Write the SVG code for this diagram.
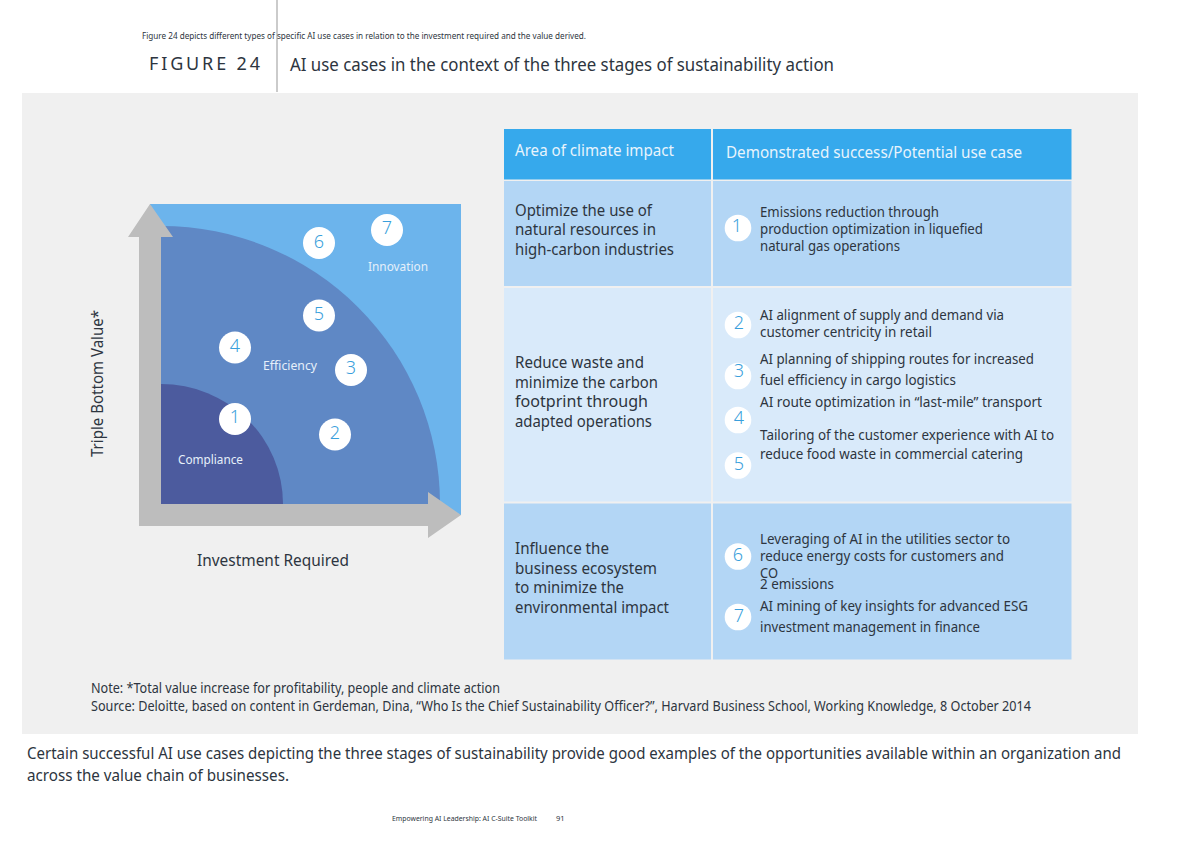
<svg xmlns="http://www.w3.org/2000/svg" width="1200" height="848" viewBox="0 0 1200 848">
<style>
text{font-family:"Noto Sans","Open Sans","Liberation Sans",sans-serif;fill:#2d3540}
.t15{font-size:14px}
.t16{font-size:15.5px}
.big{font-size:16.5px}
.hd{font-size:16px;fill:#e8f4fc}
.wl{font-size:12.5px;fill:#e6f0fa}
.n1{font-size:18px;fill:#3a9fdc;text-anchor:middle;font-weight:300}
.n2{font-size:18px;fill:#3a9fdc;text-anchor:middle;font-weight:300}
.c1{fill:#fff}
</style>
<rect width="1200" height="848" fill="#fff"/>
<rect x="22" y="93" width="1116" height="641" fill="#f0f0f0"/>
<line x1="277" y1="0" x2="277" y2="92" stroke="#a8a8a8" stroke-width="1.2"/>
<text x="142" y="39" font-size="8.5" textLength="444" lengthAdjust="spacingAndGlyphs">Figure 24 depicts different types of specific AI use cases in relation to the investment required and the value derived.</text>
<text x="149" y="70" font-size="18" textLength="111" lengthAdjust="spacing">FIGURE 24</text>
<text x="290" y="71" font-size="17.5" textLength="544" lengthAdjust="spacingAndGlyphs">AI use cases in the context of the three stages of sustainability action</text>

<g id="chart">
<rect x="150" y="204" width="311" height="311" fill="#6cb4ec"/>
<path d="M161 504V226A279 278 0 0 1 440 504Z" fill="#5f88c5"/>
<path d="M161 504V384A122 120 0 0 1 283 504Z" fill="#4c5b9e"/>
<path d="M139 526V237H128L150 204L173 237H161V504H428V492L461 515L428 538V526Z" fill="#bdbdbd"/>
<text class="wl" x="178" y="464" textLength="65" lengthAdjust="spacingAndGlyphs">Compliance</text>
<text class="wl" x="263" y="370" textLength="54" lengthAdjust="spacingAndGlyphs">Efficiency</text>
<text class="wl" x="368" y="271" textLength="60" lengthAdjust="spacingAndGlyphs">Innovation</text>
<text x="103" y="457" font-size="16.5" transform="rotate(-90 103 457)" textLength="147" lengthAdjust="spacingAndGlyphs">Triple Bottom Value*</text>
<text x="197" y="566" font-size="16.5" textLength="152" lengthAdjust="spacingAndGlyphs">Investment Required</text>
</g>
<g id="m1"><circle class="c1" cx="235" cy="419" r="16"/><text class="n1" x="235" y="423">1</text></g>
<g id="m2"><circle class="c1" cx="335" cy="434.500" r="16"/><text class="n1" x="335" y="439">2</text></g>
<g id="m3"><circle class="c1" cx="351" cy="370" r="16"/><text class="n1" x="351" y="374">3</text></g>
<g id="m4"><circle class="c1" cx="235" cy="347.500" r="16"/><text class="n1" x="235" y="352">4</text></g>
<g id="m5"><circle class="c1" cx="319" cy="315.500" r="16"/><text class="n1" x="319" y="320">5</text></g>
<g id="m6"><circle class="c1" cx="319" cy="243" r="16"/><text class="n1" x="319" y="248">6</text></g>
<g id="m7"><circle class="c1" cx="387" cy="230" r="16"/><text class="n1" x="387" y="234">7</text></g>

<g id="table">
<rect x="504" y="129" width="207" height="50.500" fill="#36a9ec"/>
<rect x="713" y="129" width="358.500" height="50.500" fill="#36a9ec"/>
<rect x="504" y="181" width="207" height="105" fill="#b3d6f5"/>
<rect x="713" y="181" width="358.500" height="105" fill="#b3d6f5"/>
<rect x="504" y="288" width="207" height="213.500" fill="#d9eafa"/>
<rect x="713" y="288" width="358.500" height="213.500" fill="#d9eafa"/>
<rect x="504" y="503.500" width="207" height="156" fill="#b3d6f5"/>
<rect x="713" y="503.500" width="358.500" height="156" fill="#b3d6f5"/>
<text class="hd" x="515" y="156" textLength="159" lengthAdjust="spacingAndGlyphs">Area of climate impact</text>
<text class="hd" x="726" y="158" textLength="296" lengthAdjust="spacingAndGlyphs">Demonstrated success/Potential use case</text>
<text class="big" x="515" y="216" textLength="137" lengthAdjust="spacingAndGlyphs">Optimize the use of</text>
<text class="big" x="515" y="235" textLength="141" lengthAdjust="spacingAndGlyphs">natural resources in</text>
<text class="big" x="515" y="255" textLength="159" lengthAdjust="spacingAndGlyphs">high-carbon industries</text>
<text class="big" x="515" y="368" textLength="129" lengthAdjust="spacingAndGlyphs">Reduce waste and</text>
<text class="big" x="515" y="388" textLength="143" lengthAdjust="spacingAndGlyphs">minimize the carbon</text>
<text class="big" x="515" y="407" textLength="133" lengthAdjust="spacingAndGlyphs">footprint through</text>
<text class="big" x="515" y="427" textLength="137" lengthAdjust="spacingAndGlyphs">adapted operations</text>
<text class="big" x="515" y="554" textLength="94" lengthAdjust="spacingAndGlyphs">Influence the</text>
<text class="big" x="515" y="574" textLength="142" lengthAdjust="spacingAndGlyphs">business ecosystem</text>
<text class="big" x="515" y="593" textLength="109" lengthAdjust="spacingAndGlyphs">to minimize the</text>
<text class="big" x="515" y="613" textLength="154" lengthAdjust="spacingAndGlyphs">environmental impact</text>

<text class="t15" x="760" y="217" textLength="179" lengthAdjust="spacingAndGlyphs">Emissions reduction through</text>
<text class="t15" x="760" y="234" textLength="223" lengthAdjust="spacingAndGlyphs">production optimization in liquefied</text>
<text class="t15" x="760" y="251" textLength="140" lengthAdjust="spacingAndGlyphs">natural gas operations</text>
<text class="t15" x="760" y="320" textLength="244" lengthAdjust="spacingAndGlyphs">AI alignment of supply and demand via</text>
<text class="t15" x="760" y="337" textLength="172" lengthAdjust="spacingAndGlyphs">customer centricity in retail</text>
<text class="t15" x="760" y="364" textLength="274" lengthAdjust="spacingAndGlyphs">AI planning of shipping routes for increased</text>
<text class="t15" x="760" y="385" textLength="196" lengthAdjust="spacingAndGlyphs">fuel efficiency in cargo logistics</text>
<text class="t15" x="760" y="407" textLength="282" lengthAdjust="spacingAndGlyphs">AI route optimization in “last-mile” transport</text>
<text class="t15" x="760" y="440" textLength="294" lengthAdjust="spacingAndGlyphs">Tailoring of the customer experience with AI to</text>
<text class="t15" x="760" y="459" textLength="263" lengthAdjust="spacingAndGlyphs">reduce food waste in commercial catering</text>
<text class="t15" x="760" y="544" textLength="250" lengthAdjust="spacingAndGlyphs">Leveraging of AI in the utilities sector to</text>
<text class="t15" x="760" y="561" textLength="244" lengthAdjust="spacingAndGlyphs">reduce energy costs for customers and</text>
<text class="t15" x="760" y="578" textLength="18" lengthAdjust="spacingAndGlyphs">CO</text>
<text class="t15" x="760" y="589" textLength="74" lengthAdjust="spacingAndGlyphs">2 emissions</text>
<text class="t15" x="760" y="611" textLength="268" lengthAdjust="spacingAndGlyphs">AI mining of key insights for advanced ESG</text>
<text class="t15" x="760" y="632" textLength="220" lengthAdjust="spacingAndGlyphs">investment management in finance</text>
</g>
<g id="s1"><circle class="c1" cx="738" cy="228" r="13.300"/><text class="n2" x="737" y="232">1</text></g>
<g id="s2"><circle class="c1" cx="738" cy="325" r="13.300"/><text class="n2" x="739" y="329">2</text></g>
<g id="s3"><circle class="c1" cx="738" cy="376" r="13.300"/><text class="n2" x="739" y="377">3</text></g>
<g id="s4"><circle class="c1" cx="738" cy="420" r="13.300"/><text class="n2" x="739" y="424">4</text></g>
<g id="s5"><circle class="c1" cx="738" cy="465.500" r="13.300"/><text class="n2" x="739" y="470">5</text></g>
<g id="s6"><circle class="c1" cx="738" cy="556.500" r="13.300"/><text class="n2" x="738" y="561">6</text></g>
<g id="s7"><circle class="c1" cx="738" cy="617" r="13.300"/><text class="n2" x="739" y="622">7</text></g>

<text x="91" y="693" font-size="13.500" fill="#444" textLength="409" lengthAdjust="spacingAndGlyphs">Note: *Total value increase for profitability, people and climate action</text>
<text x="91" y="711" font-size="13.500" textLength="940" lengthAdjust="spacingAndGlyphs">Source: Deloitte, based on content in Gerdeman, Dina, “Who Is the Chief Sustainability Officer?”, Harvard Business School, Working Knowledge, 8 October 2014</text>
<text x="27" y="759" font-size="16" textLength="1094" lengthAdjust="spacingAndGlyphs">Certain successful AI use cases depicting the three stages of sustainability provide good examples of the opportunities available within an organization and</text>
<text x="27" y="781" font-size="16" textLength="262" lengthAdjust="spacingAndGlyphs">across the value chain of businesses.</text>
<text x="392" y="821" font-size="7.500" textLength="145" lengthAdjust="spacingAndGlyphs">Empowering AI Leadership: AI C-Suite Toolkit</text>
<text x="556" y="821" font-size="7.500">91</text>
</svg>
